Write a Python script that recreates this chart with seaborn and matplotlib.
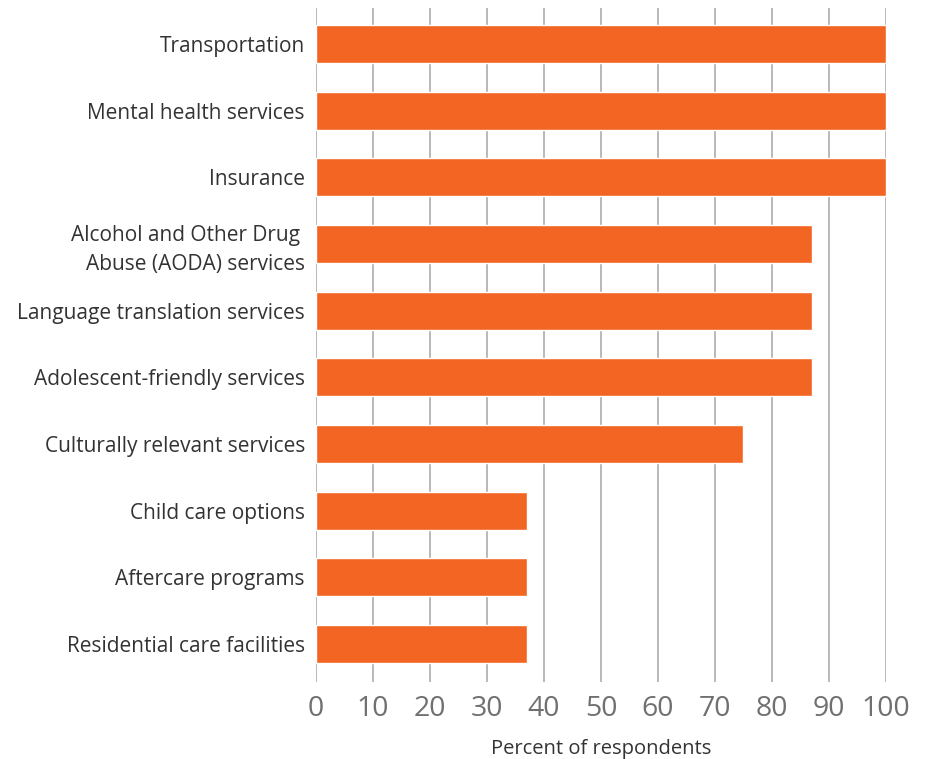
import matplotlib
matplotlib.use("Agg")
import matplotlib.pyplot as plt
import seaborn as sns
import pandas as pd

categories = [
    "Transportation",
    "Mental health services",
    "Insurance",
    "Alcohol and Other Drug \nAbuse (AODA) services",
    "Language translation services",
    "Adolescent-friendly services",
    "Culturally relevant services",
    "Child care options",
    "Aftercare programs",
    "Residential care facilities",
]
percent = [100, 100, 100, 87, 87, 87, 75, 37, 37, 37]
x_ticks = [0, 10, 20, 30, 40, 50, 60, 70, 80, 90, 100]

df = pd.DataFrame({"category": categories, "percent": percent})

sns.set_theme(style="white")
plt.rcParams["font.family"] = ["Open Sans", "DejaVu Sans"]

fig = plt.figure(figsize=(9.33, 7.59), dpi=100)
ax = fig.add_axes([0.3387, 0.1014, 0.6109, 0.8881])

sns.barplot(data=df, y="category", x="percent", orient="h",
            color="#F26522", saturation=1, width=0.57, ax=ax, zorder=3)

ax.set_xlim(0, 100)
ax.set_ylim(9.57, -0.54)
ax.set_xticks(x_ticks)
ax.set_xticklabels([str(t) for t in x_ticks], fontsize=20.5, color="#707070")
ax.tick_params(axis="x", length=0, pad=9)
ax.tick_params(axis="y", length=0, pad=8, labelsize=15, labelcolor="#333333")
for lbl in ax.get_yticklabels():
    lbl.set_linespacing(1.5)

ax.xaxis.grid(True, color="#b3b3b3", linewidth=1.3, zorder=0)
ax.yaxis.grid(False)
for s in ax.spines.values():
    s.set_visible(False)

ax.set_ylabel("")
ax.set_xlabel("Percent of respondents", fontsize=14.5, color="#333333", labelpad=12)

fig.savefig("out.png", dpi=100)
